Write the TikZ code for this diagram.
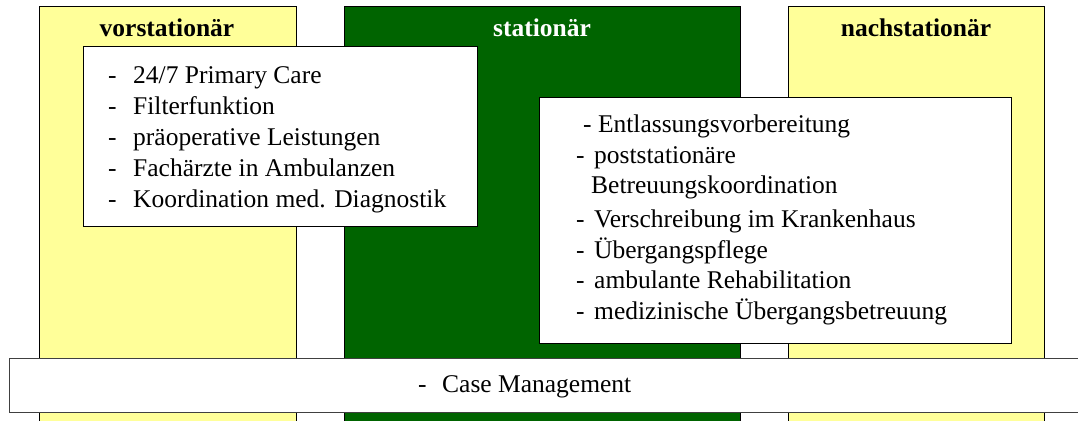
\documentclass[tikz,border=0pt]{standalone}
\usepackage{fontspec}
\setmainfont{Liberation Serif}
\definecolor{ylw}{HTML}{FFFF99}
\definecolor{grn}{HTML}{006400}
\begin{document}
\begin{tikzpicture}[x=1pt,y=-1pt,
  col/.style={draw=black, line width=1pt, anchor=north west, inner sep=0pt, outer sep=0pt},
  box/.style={draw=black, fill=white, line width=1pt, anchor=north west, inner sep=0pt, outer sep=0pt},
  head/.style={font=\fontsize{25.5}{30}\selectfont\bfseries, anchor=base, inner sep=0pt},
  item/.style={font=\fontsize{25.5}{30}\selectfont, anchor=base west, inner sep=0pt},
]
\useasboundingbox (0,0) rectangle (1078,420);
\clip (0,0) rectangle (1078,420);
% columns
\node[col, fill=ylw, minimum width=257pt, minimum height=430pt] (vor) at (39,7) {};
\node[col, fill=grn, minimum width=396pt, minimum height=430pt] (stat) at (344,7) {};
\node[col, fill=ylw, minimum width=256pt, minimum height=430pt] (nach) at (788,7) {};
% headings
\node[head] (hvor) at (167,37) {vorstationär};
\node[head, text=white] (hstat) at (542,37) {stationär};
\node[head] (hnach) at (916,37) {nachstationär};
% left box
\node[box, minimum width=394pt, minimum height=179pt] (lbox) at (83,47) {};
\node[item] (l1) at (108,83) {\makebox[25pt][l]{-}24/7 Primary Care};
\node[item] (l2) at (108,114) {\makebox[25pt][l]{-}Filterfunktion};
\node[item] (l3) at (108,145) {\makebox[25pt][l]{-}präoperative Leistungen};
\node[item] (l4) at (108,176) {\makebox[25pt][l]{-}Fachärzte in Ambulanzen};
\node[item] (l5) at (108,207) {\makebox[25pt][l]{-}Koordination med. Diagnostik};
% right box
\node[box, minimum width=472pt, minimum height=246pt] (rbox) at (539,97) {};
\node[item] (r1) at (583,132) {- Entlassungsvorbereitung};
\node[item] (r2) at (576,163) {\makebox[18pt][l]{-}poststationäre};
\node[item] (r3) at (591,193) {Betreuungskoordination};
\node[item] (r4) at (576,227) {\makebox[18pt][l]{-}Verschreibung im Krankenhaus};
\node[item] (r5) at (576,258) {\makebox[18pt][l]{-}Übergangspflege};
\node[item] (r6) at (576,288) {\makebox[18pt][l]{-}ambulante Rehabilitation};
\node[item] (r7) at (576,319) {\makebox[18pt][l]{-}medizinische Übergangsbetreuung};
% bottom bar
\node[box, draw=black!75, minimum width=1090pt, minimum height=54pt] (cmbar) at (9,358) {};
\node[item] (cm) at (418,392) {\makebox[24pt][l]{-}Case Management};
\end{tikzpicture}
\end{document}
